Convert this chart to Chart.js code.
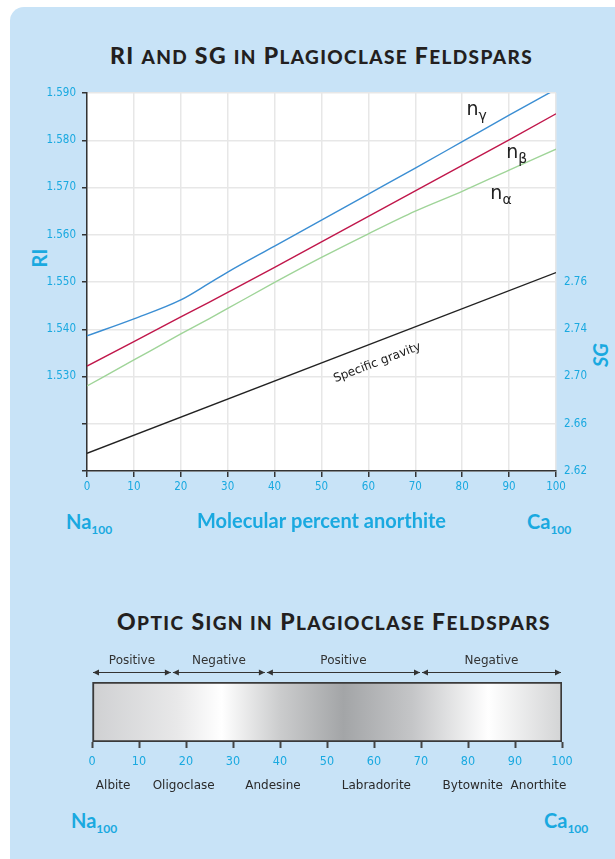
<!DOCTYPE html>
<html>
<head>
<meta charset="utf-8">
<title>RI and SG in plagioclase feldspars</title>
<script src="https://cdn.jsdelivr.net/npm/chart.js@4.4.1/dist/chart.umd.min.js"></script>
<style>
  body { margin: 0; width: 615px; height: 859px; background: #fff; position: relative; overflow: hidden; }
  #panel { position: absolute; left: 10px; top: 7px; right: 0; bottom: 0; background: #c8e3f7; border-top-left-radius: 14px; }
  .title { position: absolute; white-space: nowrap; font-family: Lato, sans-serif; font-weight: 900; color: #231f20; font-size: 23px; line-height: 23px; }
  .title .sc { font-size: 19px; }
  .cyan { position: absolute; white-space: nowrap; font-family: Lato, sans-serif; font-weight: 700; color: #1aa9e0; font-size: 20px; line-height: 20px; }
  .cyan sub { font-size: 12px; vertical-align: -5px; }
  .rot { transform: translate(-50%, -50%) rotate(-90deg); }
  canvas { position: absolute; left: 0; }
</style>
</head>
<body>
<div id="panel"></div>

<div class="title" id="title-ri" data-left="110" data-right="533" style="top:44px;">RI <span class="sc">AND</span> SG <span class="sc">IN</span> P<span class="sc">LAGIOCLASE</span> F<span class="sc">ELDSPARS</span></div>
<div class="cyan rot" style="left:39px; top:258px;">RI</div>
<div class="cyan rot" style="left:600px; top:355px; font-style:italic;">SG</div>
<div class="cyan" style="left:66px; top:511px;">Na<sub>100</sub></div>
<div class="cyan" style="left:527px; top:511px;">Ca<sub>100</sub></div>

<div class="title" id="title-optic" data-left="117" data-right="551" style="top:610px;">O<span class="sc">PTIC</span> S<span class="sc">IGN IN</span> P<span class="sc">LAGIOCLASE</span> F<span class="sc">ELDSPARS</span></div>
<div class="cyan" style="left:71px; top:810px;">Na<sub>100</sub></div>
<div class="cyan" style="left:544px; top:810px;">Ca<sub>100</sub></div>

<canvas id="ri-chart" width="615" height="545" style="top:0;"></canvas>
<canvas id="optic-chart" width="615" height="210" style="top:590px;"></canvas>

<script>
'use strict';

// DATA - refractive indices vs molecular % anorthite

let anPct = [0, 10, 20, 26, 30, 40, 50, 60, 70, 80, 90, 100];
let nGamma = [1.5386, 1.5422, 1.5462, 1.5497, 1.5521, 1.5576, 1.5631, 1.5686, 1.5741, 1.5797, 1.5853, 1.5908];
let nBeta = [1.5322, 1.5374, 1.5426, 1.5457, 1.5478, 1.5531, 1.5585, 1.5639, 1.5693, 1.5747, 1.5801, 1.5856];
let nAlpha = [1.5280, 1.5335, 1.5390, 1.5422, 1.5444, 1.5499, 1.5552, 1.5602, 1.5650, 1.5692, 1.5737, 1.5781];

// specific gravity (straight line)
let sgPct = [0, 100];
let sgValues = [2.635, 2.764];

// tick labels
let riTicks = [1.51, 1.52, 1.53, 1.54, 1.55, 1.56, 1.57, 1.58, 1.59];
let sgTicks = [2.62, 2.66, 2.70, 2.74, 2.76];

// DATA - optic sign
let signBounds = [0, 17, 37, 70, 100];
let signNames = ['Positive', 'Negative', 'Positive', 'Negative'];
let mineralNames = ['Albite', 'Oligoclase', 'Andesine', 'Labradorite', 'Bytownite', 'Anorthite'];
let mineralPos = [4.5, 19.5, 38.5, 60.5, 81, 95];

const CYAN = '#1aa9e0';
const TICK_FONT = "'DejaVu Sans Condensed', 'Liberation Sans Narrow', sans-serif";

// stretch the headings to the width they have in the original
function fitTitle(id) {
  let el = document.getElementById(id);
  let target = el.dataset.right - el.dataset.left;
  let chars = el.textContent.length;
  let extra = (target - el.getBoundingClientRect().width) / chars;
  el.style.letterSpacing = extra.toFixed(2) + 'px';
  el.style.left = el.dataset.left + 'px';
}
fitTitle('title-ri');
fitTitle('title-optic');

// SG labels sit on the RI grid lines, so map an SG value to a grid index
function sgToIndex(sg) {
  for (let i = 0; i < sgTicks.length - 1; i++) {
    if (sg <= sgTicks[i + 1] || i === sgTicks.length - 2) {
      return i + (sg - sgTicks[i]) / (sgTicks[i + 1] - sgTicks[i]);
    }
  }
  return 0;
}

function xyPoints(xs, ys) {
  return xs.map((x, i) => ({ x: x, y: ys[i] }));
}

// PLUGINS

const plotBackground = {
  id: 'plotBackground',
  beforeDraw(chart) {
    let area = chart.chartArea;
    let c = chart.ctx;
    c.save();
    c.fillStyle = '#fff';
    c.fillRect(area.left, area.top, area.right - area.left, area.bottom - area.top);
    c.restore();
  }
};

const curveLabels = {
  id: 'curveLabels',
  afterDatasetsDraw(chart) {
    let c = chart.ctx;
    let xs = chart.scales.x;
    let ys = chart.scales.y;
    let items = [
      { sub: '\u03b3', x: 80.9, y: 1.5853 },
      { sub: '\u03b2', x: 89.4, y: 1.5763 },
      { sub: '\u03b1', x: 86.0, y: 1.5675 }
    ];
    c.save();
    c.fillStyle = '#222';
    c.textBaseline = 'alphabetic';
    c.textAlign = 'left';
    items.forEach(it => {
      let px = xs.getPixelForValue(it.x);
      let py = ys.getPixelForValue(it.y);
      c.font = '19px "DejaVu Sans"';
      c.fillText('n', px, py);
      let w = c.measureText('n').width;
      c.font = '14px "DejaVu Sans"';
      c.fillText(it.sub, px + w, py + 5);
    });

    // label along the specific gravity line
    let px = xs.getPixelForValue(61.9);
    let py = ys.getPixelForValue(1.5329);
    c.translate(px, py);
    c.rotate(-20.9 * Math.PI / 180);
    c.font = '12px "DejaVu Sans"';
    c.textAlign = 'center';
    c.textBaseline = 'middle';
    c.fillText('Specific gravity', 0, 0);
    c.restore();
  }
};

const signArrows = {
  id: 'signArrows',
  afterDraw(chart) {
    let c = chart.ctx;
    let xs = chart.scales.x;
    let top = chart.chartArea.top;
    let ay = top - 10;
    c.save();
    c.strokeStyle = '#333';
    c.fillStyle = '#333';
    c.lineWidth = 1;
    for (let i = 0; i < signNames.length; i++) {
      let x1 = xs.getPixelForValue(signBounds[i]) + 1;
      let x2 = xs.getPixelForValue(signBounds[i + 1]) - 1;
      c.beginPath();
      c.moveTo(x1, ay + 0.5);
      c.lineTo(x2, ay + 0.5);
      c.stroke();
      c.beginPath();
      c.moveTo(x1, ay + 0.5);
      c.lineTo(x1 + 6, ay - 2.5);
      c.lineTo(x1 + 6, ay + 3.5);
      c.closePath();
      c.fill();
      c.beginPath();
      c.moveTo(x2, ay + 0.5);
      c.lineTo(x2 - 6, ay - 2.5);
      c.lineTo(x2 - 6, ay + 3.5);
      c.closePath();
      c.fill();
      c.font = '12px "DejaVu Sans"';
      c.textAlign = 'center';
      c.textBaseline = 'middle';
      c.fillText(signNames[i], (x1 + x2) / 2, ay - 11);
    }
    c.restore();
  }
};

// CHART 1 - RI AND SG

let riCtx = document.getElementById('ri-chart');

let lineStyle = { fill: false, pointRadius: 0, borderWidth: 1.4, tension: 0 };

let riChart = new Chart(riCtx, {
  type: 'line',
  data: {
    datasets: [
      Object.assign({}, lineStyle, { label: 'n gamma', data: xyPoints(anPct, nGamma), borderColor: '#3b8ed3', yAxisID: 'y', cubicInterpolationMode: 'monotone' }),
      Object.assign({}, lineStyle, { label: 'n beta', data: xyPoints(anPct, nBeta), borderColor: '#c0174b', yAxisID: 'y' }),
      Object.assign({}, lineStyle, { label: 'n alpha', data: xyPoints(anPct, nAlpha), borderColor: '#9fd498', yAxisID: 'y', cubicInterpolationMode: 'monotone' }),
      Object.assign({}, lineStyle, { label: 'SG', data: xyPoints(sgPct, sgValues.map(sgToIndex)), borderColor: '#222', yAxisID: 'sg' })
    ]
  },
  options: {
    responsive: false,
    animation: false,
    layout: { padding: { top: 93, left: 0, right: 0, bottom: 0 } },
    plugins: {
      legend: { display: false },
      tooltip: { enabled: false }
    },
    scales: {
      x: {
        type: 'linear',
        min: 0,
        max: 100,
        afterFit: s => { s.height = 74; },
        grid: { color: '#e7e7e7', lineWidth: 1.5, tickColor: '#333', tickLength: 6, tickWidth: 1.5 },
        border: { color: '#333', width: 1.5 },
        ticks: { stepSize: 10, color: CYAN, font: { family: TICK_FONT, size: 11.5 }, padding: 3, maxRotation: 0 },
        title: {
          display: true,
          text: 'Molecular percent anorthite',
          color: CYAN,
          font: { family: 'Lato', size: 20, weight: 'bold' },
          padding: { top: 0, bottom: 11 }
        }
      },
      y: {
        type: 'linear',
        position: 'left',
        min: 1.51,
        max: 1.59,
        afterFit: s => { s.width = 87; },
        afterBuildTicks: s => { s.ticks = riTicks.map(v => ({ value: v })); },
        grid: { color: '#e7e7e7', lineWidth: 1.5, tickColor: '#333', tickLength: 5, tickWidth: 1.5 },
        border: { color: '#333', width: 1.5 },
        ticks: {
          color: CYAN,
          font: { family: TICK_FONT, size: 11.5 },
          padding: 6,
          callback: v => (v > 1.525 ? v.toFixed(3) : '')
        }
      },
      sg: {
        type: 'linear',
        position: 'right',
        min: 0,
        max: 8,
        afterFit: s => { s.width = 59; },
        afterBuildTicks: s => { s.ticks = sgTicks.map((v, i) => ({ value: i })); },
        grid: { display: true, drawOnChartArea: false, drawTicks: false },
        border: { display: false },
        ticks: {
          color: CYAN,
          font: { family: TICK_FONT, size: 11.5 },
          padding: 8,
          callback: (v, i) => sgTicks[i].toFixed(2)
        }
      }
    }
  },
  plugins: [plotBackground, curveLabels]
});

// CHART 2 - OPTIC SIGN

let opticCtx = document.getElementById('optic-chart');

function barGradient(context) {
  let chart = context.chart;
  if (!chart.chartArea) return '#ccc';
  let xs = chart.scales.x;
  let g = chart.ctx.createLinearGradient(xs.getPixelForValue(0), 0, xs.getPixelForValue(100), 0);
  g.addColorStop(0.00, '#cfd0d2');
  g.addColorStop(0.18, '#e8e8e9');
  g.addColorStop(0.276, '#ffffff');
  g.addColorStop(0.40, '#cbcccd');
  g.addColorStop(0.535, '#a3a5a7');
  g.addColorStop(0.68, '#c4c5c7');
  g.addColorStop(0.843, '#ffffff');
  g.addColorStop(1.00, '#d3d4d5');
  return g;
}

let opticChart = new Chart(opticCtx, {
  type: 'bar',
  data: {
    labels: ['An'],
    datasets: [{
      label: 'Composition',
      data: [[signBounds[0], signBounds[signBounds.length - 1]]],
      backgroundColor: barGradient,
      borderColor: '#3a3a3a',
      borderWidth: 2,
      borderSkipped: false,
      barPercentage: 1,
      categoryPercentage: 1
    }]
  },
  options: {
    indexAxis: 'y',
    responsive: false,
    animation: false,
    layout: { padding: { top: 92, left: 92, right: 53, bottom: 0 } },
    plugins: {
      legend: { display: false },
      tooltip: { enabled: false }
    },
    scales: {
      y: { display: false },
      x: {
        type: 'linear',
        min: 0,
        max: 100,
        weight: 0,
        afterFit: s => { s.height = 28; },
        grid: { drawOnChartArea: false, tickColor: '#444', tickLength: 6, tickWidth: 2 },
        border: { display: false },
        ticks: { stepSize: 10, color: CYAN, font: { family: TICK_FONT, size: 12.5 }, padding: 6, maxRotation: 0 }
      },
      x2: {
        type: 'linear',
        position: 'bottom',
        min: 0,
        max: 100,
        weight: 1,
        afterFit: s => { s.height = 30; },
        afterBuildTicks: s => { s.ticks = mineralPos.map(v => ({ value: v })); },
        grid: { display: false, drawTicks: false },
        border: { display: false },
        ticks: {
          autoSkip: false,
          maxRotation: 0,
          color: '#2a2a2a',
          font: { family: 'DejaVu Sans', size: 12 },
          padding: 9,
          callback: (v, i) => mineralNames[i]
        }
      }
    }
  },
  plugins: [signArrows]
});
</script>
</body>
</html>
